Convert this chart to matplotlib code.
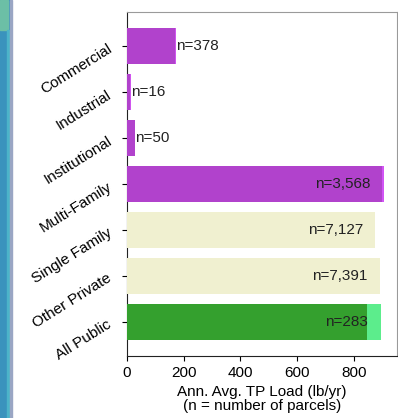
import matplotlib
matplotlib.use("Agg")
import matplotlib.pyplot as plt
from matplotlib.patches import Rectangle

# Annual average TP load per land-use category
categories = ["Commercial", "Industrial", "Institutional", "Multi-Family",
              "Single Family", "Other Private", "All Public"]
load_total = [174, 13, 29, 905, 876, 892, 895]
load_net = [170, 12, 28, 899, 876, 892, 847]
parcel_counts = ["n=378", "n=16", "n=50", "n=3,568", "n=7,127", "n=7,391", "n=283"]
x_ticks = [0, 200, 400, 600, 800]

back_colors = ["#cf55ee", "#cf55ee", "#cf55ee", "#d254f5", "#f2f2d2", "#f2f2d2", "#5ced8c"]
front_colors = ["#b142cc", "#b142cc", "#b142cc", "#b142cc", "#f0f0d0", "#f0f0d0", "#34a02e"]

plt.rcParams["font.family"] = ["Liberation Sans", "DejaVu Sans"]
plt.rcParams["font.size"] = 11

fig = plt.figure(figsize=(3.98, 4.18), dpi=100)

# panel frame on the left edge
fig.patches.append(Rectangle((0, 0), 10 / 398, 1, transform=fig.transFigure,
                             color="#3a93bd", zorder=0))
fig.patches.append(Rectangle((0, 1 - 30 / 418), 8 / 398, 30 / 418,
                             transform=fig.transFigure, color="#6cbfa6", zorder=1))
fig.patches.append(Rectangle((7 / 398, 0), 2 / 398, 1 - 30 / 418,
                             transform=fig.transFigure, color="#4cb4c9", zorder=1))
fig.patches.append(Rectangle((10 / 398, 0), 2 / 398, 1, transform=fig.transFigure,
                             color="#9aa6c4", zorder=1))

ax = fig.add_axes([127 / 398, 1 - 356 / 418, 269.5 / 398, 344 / 418])

y = list(range(len(categories)))
ax.barh(y, load_total, height=0.8, color=back_colors, zorder=2)
ax.barh(y, load_net, height=0.8, color=front_colors, zorder=3)
ax.invert_yaxis()

big = max(load_total) * 0.5
for yi, val, lab in zip(y, load_total, parcel_counts):
    if val > big:
        ax.text(val * 0.95, yi, lab, ha="right", va="center", color="#222222",
                fontsize=11, zorder=4)
    else:
        ax.text(val, yi, lab, ha="left", va="center", color="#222222",
                fontsize=11, zorder=4)

ax.set_yticks(y)
ax.set_yticklabels(categories, rotation=32, ha="right", rotation_mode="anchor")
ax.tick_params(axis="y", pad=9)
ax.set_xticks(x_ticks)
ax.set_xlabel("Ann. Avg. TP Load (lb/yr)\n(n = number of parcels)", linespacing=1.0)

for side in ["top", "right"]:
    ax.spines[side].set_color("#9a9a9a")
for side in ["left", "bottom"]:
    ax.spines[side].set_color("#222222")

fig.savefig("out.png", dpi=100)
